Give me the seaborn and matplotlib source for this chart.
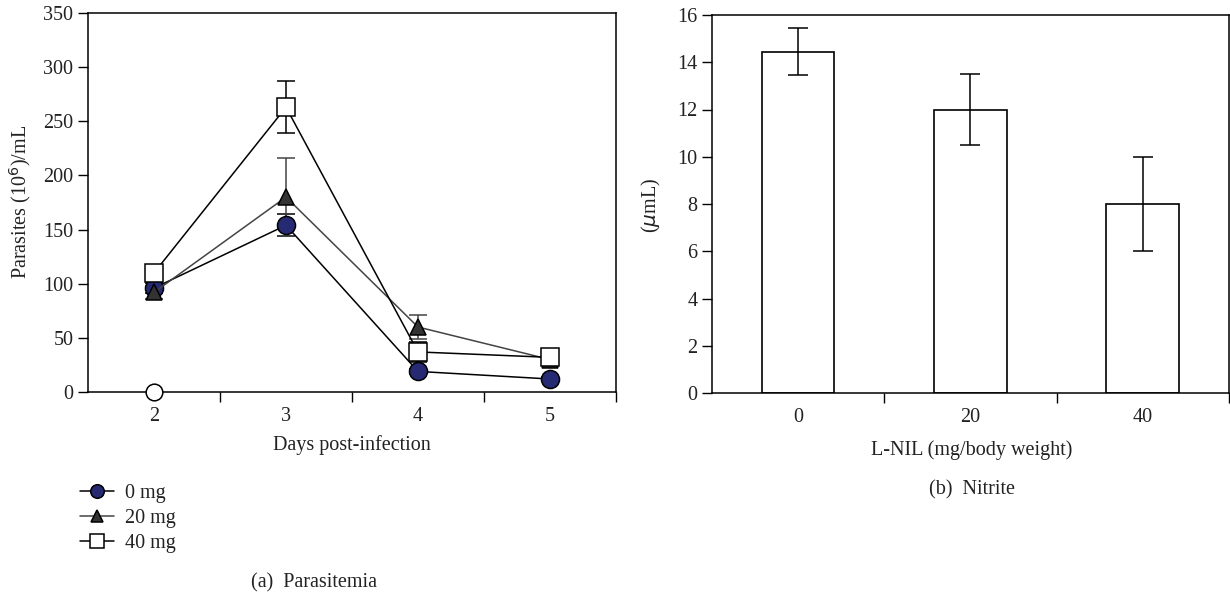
import numpy as np
import pandas as pd
import matplotlib
matplotlib.use("Agg")
import matplotlib.pyplot as plt
import seaborn as sns

# ---- data ----
days = [2, 3, 4, 5]
dose_labels = ["0 mg", "20 mg", "40 mg"]
para_0mg = [96, 154, 19, 12]
para_20mg = [92, 180, 60, 30]
para_40mg = [110, 263, 37, 32]
err_0mg = [5, 10, 2, 2]
err_20mg = [6, 36, 11, 4]
err_40mg = [6, 24, 9, 4]
control_day = [2]
control_val = [0]

lnil_doses = ["0", "20", "40"]
nitrite = [14.45, 12.0, 8.0]
nitrite_err = [1.0, 1.5, 2.0]

W, H = 1230, 596
FS = 14.5
sns.set_theme(style="ticks")
plt.rcParams["font.family"] = ["Liberation Serif", "DejaVu Serif"]
plt.rcParams["font.size"] = FS
txt = "#222222"

fig = plt.figure(figsize=(W / 100, H / 100), dpi=100)

def fx(px):
    return px / W

def fy(py):
    return 1 - py / H

# ---- (a) parasitemia ----
ax1 = fig.add_axes([fx(88), fy(392), fx(616 - 88), (392 - 13) / H])
series = [
    (para_0mg, err_0mg, "o", "#262a72", "black", 13),
    (para_20mg, err_20mg, "^", "#333333", "#444444", 12),
    (para_40mg, err_40mg, "s", "white", "black", 13),
]
for (vals, errs, mk, fc, lc, ms), lab in zip(series, dose_labels):
    ax1.errorbar(days, vals, yerr=errs, fmt="none", ecolor=lc, elinewidth=1.1,
                 capsize=6.5, capthick=1.1, zorder=2)
    df = pd.DataFrame({"day": days, "val": vals})
    sns.lineplot(data=df, x="day", y="val", ax=ax1, color=lc, lw=1.1,
                 marker=mk, markersize=ms, markerfacecolor=fc,
                 markeredgecolor="black", markeredgewidth=1.1, label=lab,
                 zorder=3)
ax1.plot(control_day, control_val, "o", ms=12, mfc="white", mec="black",
         mew=1.1, zorder=4, clip_on=False)

ax1.set_xlim(1.5, 5.5)
ax1.set_ylim(0, 350)
ax1.set_xticks(days)
ax1.set_xticks([2.5, 3.5, 4.5, 5.5], minor=True)
ax1.set_yticks(range(0, 351, 50))
ax1.tick_params(axis="x", which="major", length=0, pad=11, labelsize=FS, colors=txt)
ax1.tick_params(axis="x", which="minor", length=7, width=1, direction="out", color="black")
ax1.tick_params(axis="y", length=7, width=1, direction="out", labelsize=FS,
                colors=txt, color="black")
ax1.set_xlabel("")
ax1.set_ylabel("")
for s in ax1.spines.values():
    s.set_color("black")
    s.set_linewidth(1.1)

leg = ax1.legend(loc="upper left", bbox_to_anchor=(fx(80), fy(484)),
                 bbox_transform=fig.transFigure, frameon=False, fontsize=FS,
                 handlelength=1.7, handletextpad=0.55, labelspacing=0.3,
                 borderaxespad=0, borderpad=0, markerscale=0.75)
for t in leg.get_texts():
    t.set_color(txt)

fig.text(fx(20), fy(202), "Parasites (10$^{6}$)/mL", rotation=90,
         ha="center", va="center", fontsize=FS, color=txt)
fig.text(fx(352), fy(445), "Days post-infection", ha="center", va="center",
         fontsize=FS, color=txt)
fig.text(fx(314), fy(583), "(a)  Parasitemia", ha="center", va="center",
         fontsize=FS, color=txt)

# ---- (b) nitrite ----
ax2 = fig.add_axes([fx(712), fy(393), 0.999 - fx(712), (393 - 15) / H])
sns.barplot(x=lnil_doses, y=nitrite, ax=ax2, color="white", edgecolor="black",
            linewidth=1.2, width=0.42, errorbar=None, zorder=2)
ax2.errorbar(range(len(nitrite)), nitrite, yerr=nitrite_err, fmt="none",
             ecolor="black", elinewidth=1.1, capsize=7, capthick=1.1, zorder=3)
ax2.set_xlim(-0.5, 2.5)
ax2.set_ylim(0, 16)
ax2.set_yticks(range(0, 17, 2))
ax2.set_xticks([0.5, 1.5, 2.5], minor=True)
ax2.tick_params(axis="x", which="major", length=0, pad=11, labelsize=FS, colors=txt)
ax2.tick_params(axis="x", which="minor", length=7, width=1, direction="out", color="black")
ax2.tick_params(axis="y", length=7, width=1, direction="out", labelsize=FS,
                colors=txt, color="black")
ax2.set_xlabel("")
ax2.set_ylabel("")
for s in ax2.spines.values():
    s.set_color("black")
    s.set_linewidth(1.1)

fig.text(fx(651), fy(205), "($\\mu$mL)", rotation=90, ha="center", va="center",
         fontsize=FS, color=txt)
fig.text(fx(972), fy(450), "L-NIL (mg/body weight)", ha="center", va="center",
         fontsize=FS, color=txt)
fig.text(fx(972), fy(490), "(b)  Nitrite", ha="center", va="center",
         fontsize=FS, color=txt)

fig.savefig("out.png", dpi=100)
